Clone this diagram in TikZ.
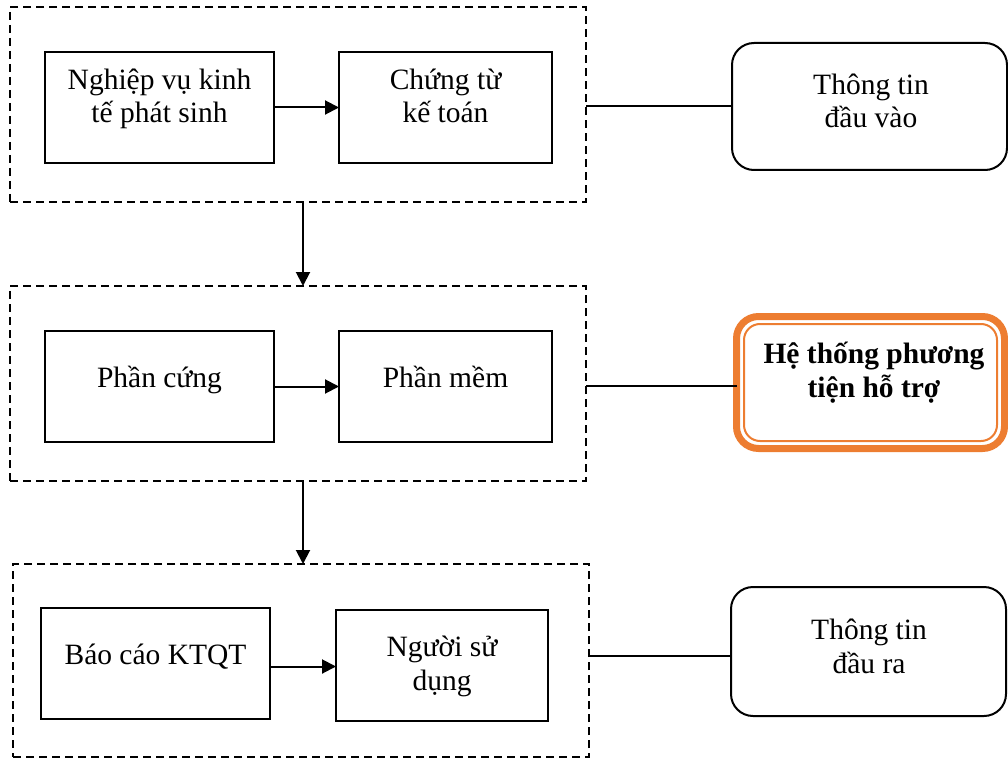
\documentclass[tikz,border=0pt]{standalone}
\usepackage{fontspec}
\setmainfont{Liberation Serif}
\usetikzlibrary{arrows.meta}
\definecolor{accent}{HTML}{ED7D31}
\begin{document}
\begin{tikzpicture}[x=1pt,y=-1pt,
  group/.style={draw, dash pattern=on 8pt off 5pt, line width=1.6pt, inner sep=0pt, outer sep=0pt, minimum width=576pt},
  stepbox/.style={draw, line width=2.2pt, inner sep=0pt, outer sep=0pt, minimum height=111pt},
  infobox/.style={draw, line width=2pt, rounded corners=22pt, inner sep=0pt, outer sep=0pt, minimum width=275pt},
  lbl/.style={font=\fontsize{29.5}{33.5}\selectfont, align=center, anchor=base, inner sep=0pt},
  flow/.style={line width=2pt, -{Triangle[length=14pt,width=14pt]}},
  link/.style={line width=2pt}]
\useasboundingbox (0,0) rectangle (1008,759);

% dashed groups
\node[group, minimum height=195pt] (g1) at (298,104.5) {};
\node[group, minimum height=195pt] (g2) at (298,383.5) {};
\node[group, minimum height=193pt] (g3) at (301,660.5) {};

% process boxes
\node[stepbox, minimum width=229pt] (b1) at (159.5,107.5) {};
\node[stepbox, minimum width=213pt] (b2) at (445.5,107.5) {};
\node[stepbox, minimum width=229pt] (b3) at (159.5,386.5) {};
\node[stepbox, minimum width=213pt] (b4) at (445.5,386.5) {};
\node[stepbox, minimum width=229pt] (b5) at (155.5,663.5) {};
\node[stepbox, minimum width=212pt] (b6) at (442,665.5) {};

% information boxes
\node[infobox, minimum height=127pt] (r1) at (869.5,106.5) {};
\node[infobox, minimum height=129pt] (r3) at (868.5,651.5) {};
\node[draw=accent, line width=7pt, rounded corners=22pt, inner sep=0pt, outer sep=0pt,
      minimum width=268pt, minimum height=132pt] (o) at (870.5,382.5) {};
\node[draw=accent, line width=2pt, rounded corners=16pt, inner sep=0pt, outer sep=0pt,
      minimum width=253pt, minimum height=117pt] (oi) at (870.5,382.5) {};

% labels (anchor base = baseline of the last line)
\node[lbl] (t1) at (159.5,123) {Nghiệp vụ kinh\\tế phát sinh};
\node[lbl] (t2) at (445.5,123) {Chứng từ\\kế toán};
\node[lbl] (t3) at (159.5,387) {Phần cứng};
\node[lbl] (t4) at (445.5,387) {Phần mềm};
\node[lbl] (t5) at (155.5,664) {Báo cáo KTQT};
\node[lbl] (t6) at (442,690) {Người sử\\dụng};
\node[lbl] (t7) at (871,128) {Thông tin\\đầu vào};
\node[lbl, font=\fontsize{29.5}{34}\selectfont\bfseries] (t8) at (874,397) {Hệ thống phương\\tiện hỗ trợ};
\node[lbl] (t9) at (869,673) {Thông tin\\đầu ra};

% connectors
\draw[flow] (b1.east) -- (b2.west);
\draw[flow] (b3.east) -- (b4.west);
\draw[flow] ([yshift=-3pt]b5.east) -- ([yshift=-3pt]b5.east -| b6.west);
\draw[flow] ([xshift=5pt]g1.south) -- ([xshift=5pt]g1.south |- g2.north);
\draw[flow] ([xshift=5pt]g2.south) -- ([xshift=5pt]g2.south |- g3.north);
\draw[link] (r1.west -| g1.east) -- (r1.west);
\draw[link] ([yshift=-3.5pt]o.west -| g2.east) -- ([yshift=-3.5pt]o.west);
\draw[link] ([yshift=-4pt]r3.west -| g3.east) -- ([yshift=-4pt]r3.west);
\end{tikzpicture}
\end{document}
